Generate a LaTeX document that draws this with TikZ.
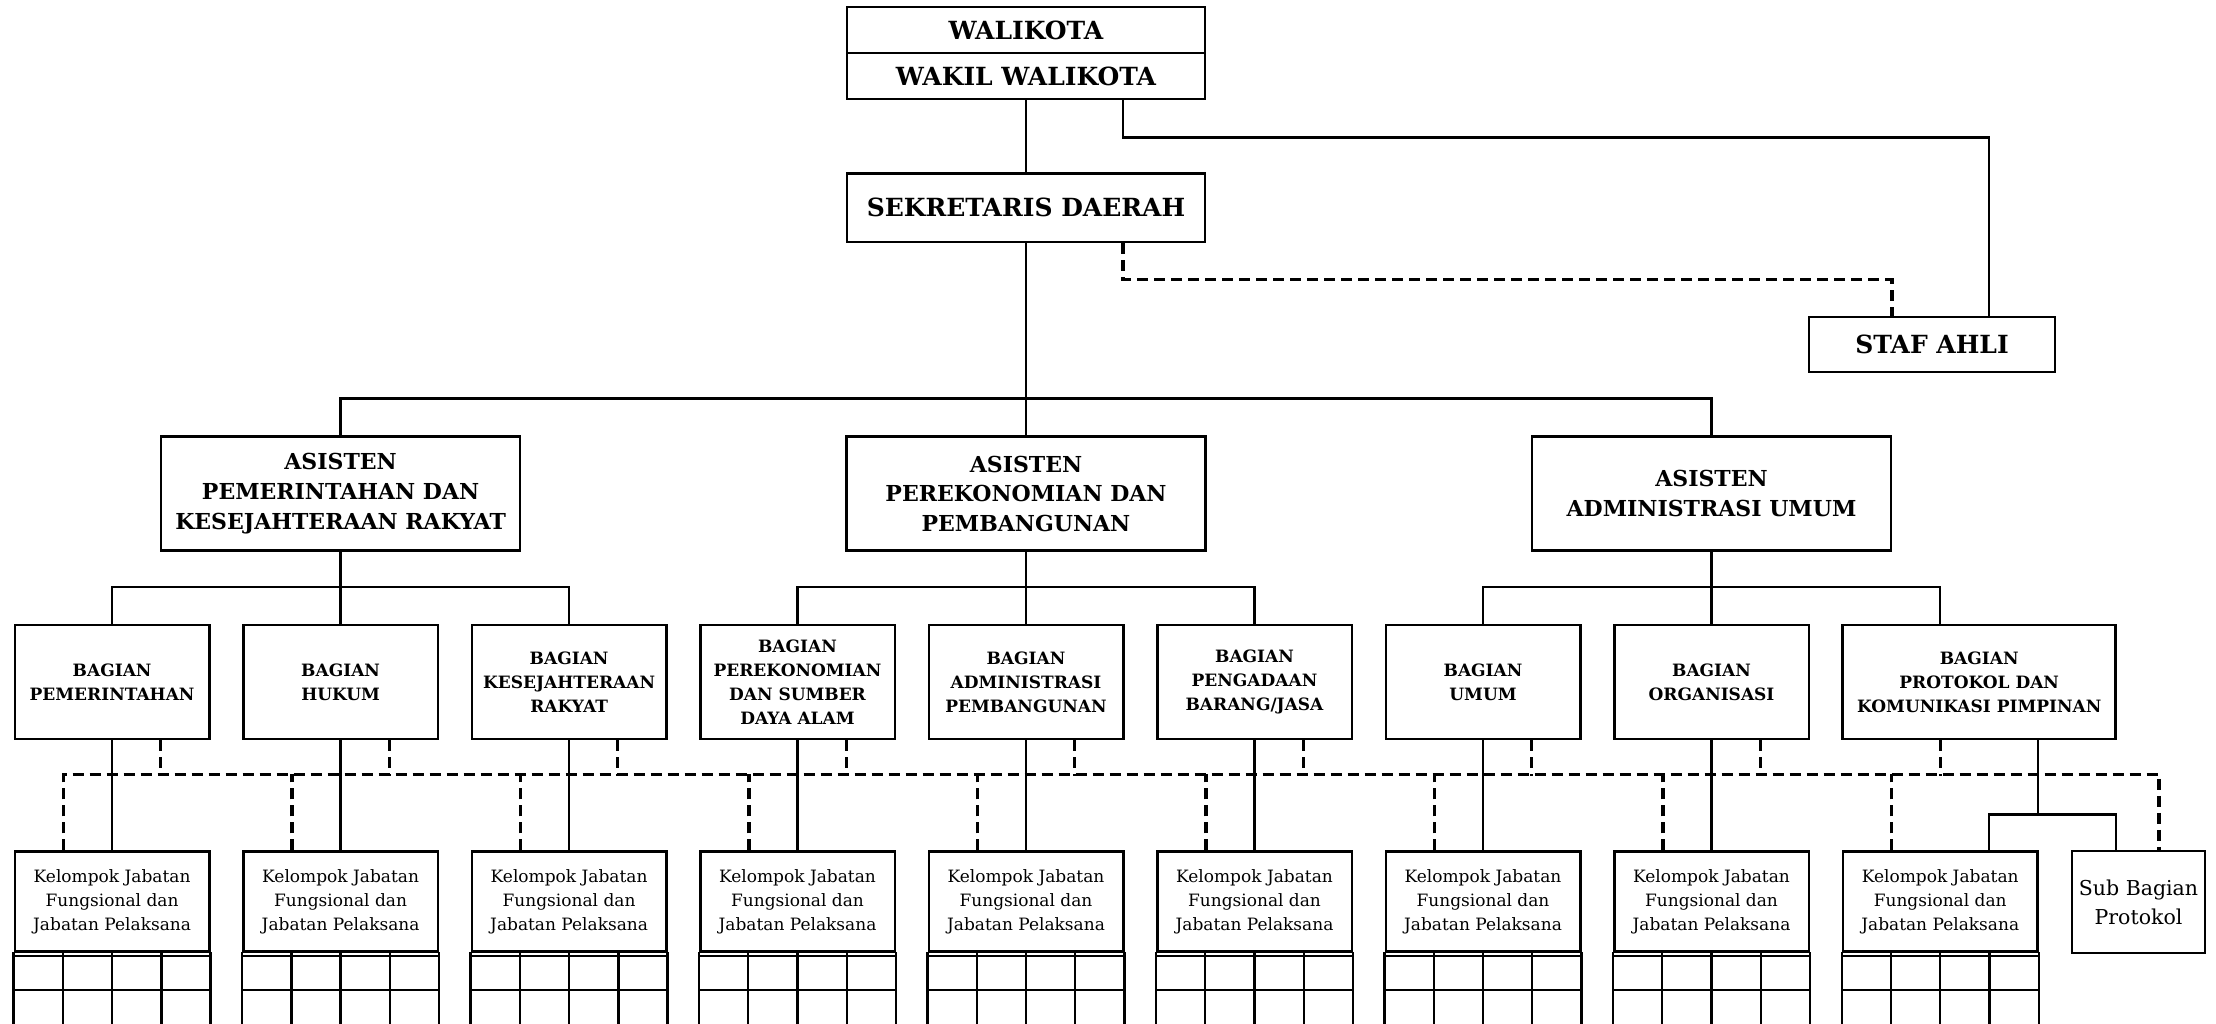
\documentclass[tikz,border=0pt]{standalone}
\usepackage{fontspec}
\setmainfont{DejaVu Serif}
\usetikzlibrary{calc}
\tikzset{
  ln/.style={line width=2.4pt, line cap=rect},
  dsh/.style={line width=3.2pt, dash pattern=on 11pt off 6pt},
  bx/.style={draw, line width=2.5pt, inner sep=0pt, align=center, fill=white},
  topbox/.style={bx, minimum width=358pt, font=\fontsize{25}{30}\selectfont\bfseries},
  asbox/.style={bx, minimum width=359pt, minimum height=114pt, font=\fontsize{22}{29.7}\selectfont\bfseries},
  bgbox/.style={bx, minimum width=194.5pt, minimum height=114pt, font=\fontsize{17}{24}\selectfont\bfseries},
  klbox/.style={bx, minimum width=194.5pt, minimum height=100pt, font=\fontsize{17}{24}\selectfont},
}
\begin{document}
\begin{tikzpicture}[x=1pt,y=-1pt]
\useasboundingbox (0,0) rectangle (2216,1023);
\clip (0,0) rectangle (2216,1023);
\fill[white] (0,0) rectangle (2216,1023);
% top
\node[topbox, minimum height=46pt] (wk) at (1026,30.2) {WALIKOTA};
\node[topbox, minimum height=46pt] (wwk) at (1026,76.2) {WAKIL WALIKOTA};
\node[topbox, minimum height=68.5pt] (sd) at (1026,207.5) {SEKRETARIS DAERAH};
\node[bx, minimum width=246pt, minimum height=55pt, font=\fontsize{25}{30}\selectfont\bfseries] (staf) at (1932,344.5) {STAF AHLI};
% asisten
\node[asbox] (a1) at (340.6,493.7) {ASISTEN\\PEMERINTAHAN DAN\\KESEJAHTERAAN RAKYAT};
\node[asbox] (a2) at (1026,493.7) {ASISTEN\\PEREKONOMIAN DAN\\PEMBANGUNAN};
\node[asbox] (a3) at (1711.5,493.7) {ASISTEN\\ADMINISTRASI UMUM};
% bagian
\node[bgbox] (b1) at (112.1,682) {BAGIAN\\PEMERINTAHAN};
\node[bgbox] (b2) at (340.6,682) {BAGIAN\\HUKUM};
\node[bgbox] (b3) at (569.1,682) {BAGIAN\\KESEJAHTERAAN\\RAKYAT};
\node[bgbox] (b4) at (797.5,682) {BAGIAN\\PEREKONOMIAN\\DAN SUMBER\\DAYA ALAM};
\node[bgbox] (b5) at (1026,682) {BAGIAN\\ADMINISTRASI\\PEMBANGUNAN};
\node[bgbox] (b6) at (1254.5,682) {BAGIAN\\PENGADAAN\\BARANG/JASA};
\node[bgbox] (b7) at (1483,682) {BAGIAN\\UMUM};
\node[bgbox] (b8) at (1711.5,682) {BAGIAN\\ORGANISASI};
\node[bgbox, minimum width=273pt] (b9) at (1979.2,682) {BAGIAN\\PROTOKOL DAN\\KOMUNIKASI PIMPINAN};
% kelompok
\foreach \i/\x in {1/112.1,2/340.6,3/569.1,4/797.5,5/1026,6/1254.5,7/1483,8/1711.5,9/1940.2}{
  \node[klbox] (k\i) at (\x,901.5) {Kelompok Jabatan\\Fungsional dan\\Jabatan Pelaksana};
}
\node[bx, minimum width=133pt, minimum height=102pt, font=\fontsize{20.5}{28.7}\selectfont] (sub) at (2138.5,902) {Sub Bagian\\Protokol};
% grids under kelompok
\foreach \i in {1,...,9}{
  \draw[ln] ($(k\i.south west)+(0,3.2)$) -- ($(k\i.south east)+(0,3.2)$);
  \draw[ln] ($(k\i.south west)+(0,37.5)$) -- ($(k\i.south east)+(0,37.5)$);
  \foreach \f in {0,0.25,0.5,0.75,1}{
    \draw[ln] ($(k\i.south west)!\f!(k\i.south east)$) -- ++(0,90);
  }
}
% connectors top
\draw[ln] (wwk.south) -- (sd.north);
\draw[ln] ([xshift=97pt]wwk.south) -- ++(0,37) -| ([xshift=57pt]staf.north);
\draw[dsh] ([xshift=97pt]sd.south) -- ++(0,36.6) -| ([xshift=-40pt]staf.north);
\draw[ln] (sd.south) -- (a2.north);
\draw[ln] (a1.north) -- ++(0,-37) -| (a3.north);
% asisten to bagian
\draw[ln] (a1.south) -- (b2.north);
\draw[ln] (b1.north) -- ++(0,-37) -| (b3.north);
\draw[ln] (a2.south) -- (b5.north);
\draw[ln] (b4.north) -- ++(0,-37) -| (b6.north);
\draw[ln] (a3.south) -- (b8.north);
\draw[ln] (b7.north) -- ++(0,-37) -| ([xshift=-39pt]b9.north);
% bagian to kelompok (solid)
\foreach \i in {1,...,8}{
  \draw[ln] (b\i.south) -- (k\i.north);
}
\draw[ln] ([xshift=58.8pt]b9.south) -- ++(0,74.3) coordinate (j9);
\draw[ln] ([xshift=48.5pt]k9.north) |- (j9) -| ([xshift=-22.8pt]sub.north);
% dashed
\draw[dsh] ([xshift=-48.6pt]k1.north) -- ++(0,-76) -| ([xshift=20.5pt]sub.north);
\foreach \i in {2,...,9}{
  \draw[dsh] ([xshift=-48.6pt]k\i.north) -- ++(0,-76);
}
\foreach \i in {1,...,8}{
  \draw[dsh] ([xshift=48.6pt]b\i.south) -- ++(0,36);
}
\draw[dsh] ([xshift=-39pt]b9.south) -- ++(0,36);
\end{tikzpicture}
\end{document}
